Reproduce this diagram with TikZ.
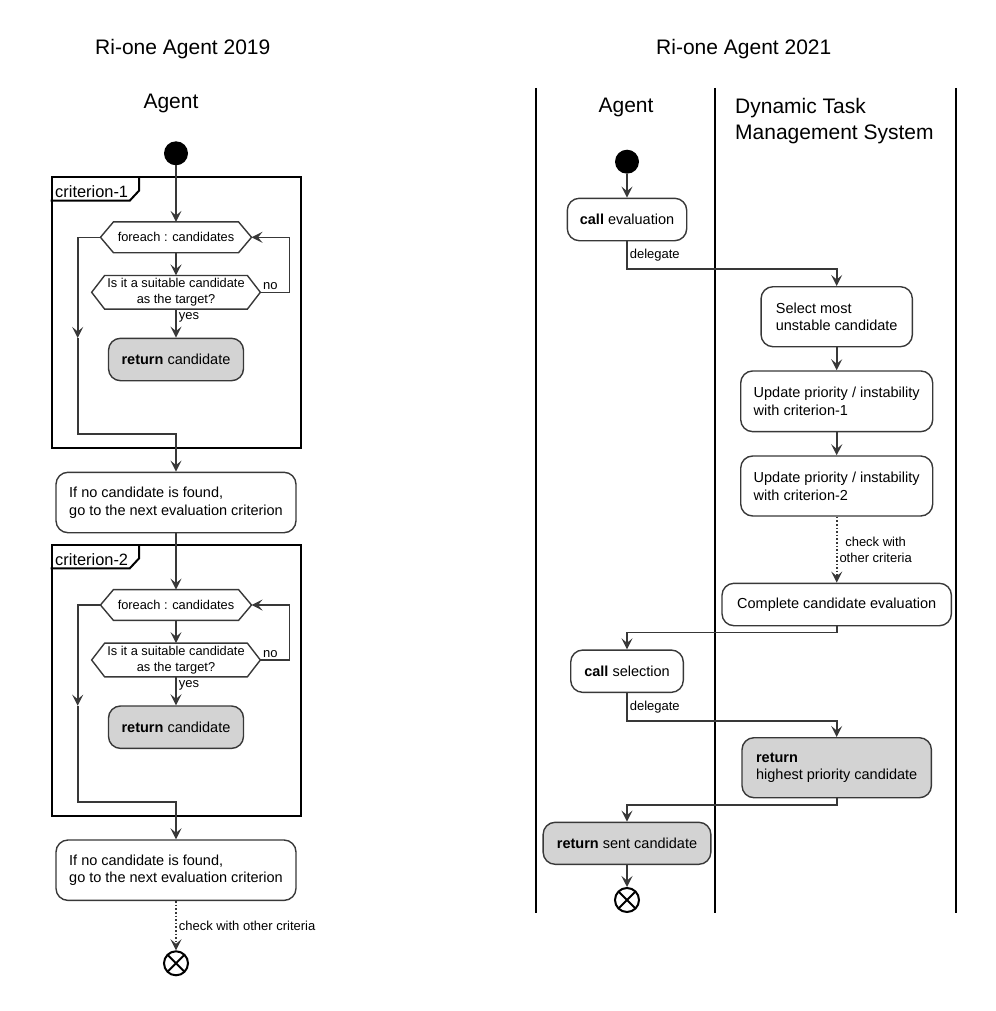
\documentclass[tikz,border=0pt]{standalone}
\usepackage{fontspec}
\setmainfont{Liberation Sans}
\usetikzlibrary{arrows.meta}
\definecolor{linecolor}{RGB}{56,56,56}
\definecolor{fillcolor}{RGB}{211,211,211}

\tikzset{
  every node/.style={font=\fontsize{14.5}{17.7}\selectfont},
  action/.style={draw=linecolor, line width=1.4pt, rounded corners=12pt, align=left, inner sep=0pt},
  retaction/.style={action, fill=fillcolor},
  loopbox/.style={inner sep=0pt, align=center, font=\fontsize{12.8}{16}\selectfont},
  hexline/.style={draw=linecolor, line width=1.4pt},
  critframe/.style={draw=black, line width=2pt, inner sep=0pt},
  tabtext/.style={inner sep=0pt, font=\fontsize{16.4}{18}\selectfont},
  startdot/.style={circle, fill=black, minimum size=24pt, inner sep=0pt},
  enddot/.style={circle, draw=black, line width=2pt, minimum size=24pt, inner sep=0pt,
    path picture={\draw[line width=2pt] (path picture bounding box.north west) -- (path picture bounding box.south east)
      (path picture bounding box.north east) -- (path picture bounding box.south west);}},
  flow/.style={draw=linecolor, line width=1.6pt, -{Stealth[length=11pt,width=11pt,inset=4.5pt]}},
  dottedflow/.style={flow, dotted},
  edgelabel/.style={inner sep=2pt, font=\fontsize{13}{16.5}\selectfont},
  headtext/.style={inner sep=0pt, font=\fontsize{21}{26.7}\selectfont},
  lane/.style={draw=black, line width=2pt}
}

\begin{document}
\begin{tikzpicture}[x=1pt,y=-1pt]
  \useasboundingbox (0,0) rectangle (995,1011);

  % Ri-one Agent 2019
  \node[headtext, anchor=base] (head1) at (182.8,55) {Ri-one Agent 2019};
  \node[headtext, anchor=base] (agent1) at (171,108.3) {Agent};
  \node[startdot] (s1) at (176,153.3) {};

  \foreach \i/\dy in {1/0,2/367.7}
  {
    \node[critframe, minimum width=249.3pt, minimum height=271pt] (crit\i) at (176.35,312.8+\dy) {};
    \draw[critframe] (crit\i.north west) ++(0,24.4) -- ++(79,0) -- ++(9.3,-10) -- ++(0,-14.4);
    \node[tabtext, anchor=west] (tab\i) at (55,191.7+\dy) {criterion-\i};

    \node[loopbox, minimum width=150.7pt, minimum height=30.4pt] (f\i) at (176,237.3+\dy) {foreach : candidates};
    \node[loopbox, minimum width=168.3pt, minimum height=33.3pt] (d\i) at (176,292.3+\dy) {Is it a suitable candidate\\as the target?};
    \foreach \n in {f\i,d\i}
      \draw[hexline] (\n.west) -- ([xshift=13pt]\n.north west) -- ([xshift=-13pt]\n.north east)
        -- (\n.east) -- ([xshift=-13pt]\n.south east) -- ([xshift=13pt]\n.south west) -- cycle;
    \node[retaction, minimum width=135pt, minimum height=42.4pt] (r\i) at (176,359.5+\dy) {\textbf{return} candidate};
    \node[action, minimum width=240pt, minimum height=60.4pt] (b\i) at (176,502.5+\dy) {If no candidate is found,\\go to the next evaluation criterion};

    \coordinate (m\i) at (77.7,338+\dy);
    \coordinate (k\i) at (77.7,434+\dy);
    \draw[flow] (f\i) -- (d\i);
    \draw[flow] (d\i) -- node[edgelabel, right, pos=0.3] (yes\i) {yes} (r\i);
    \draw[flow] (d\i.east) node[edgelabel, anchor=south west] (no\i) {no} -- ++(29,0) |- (f\i.east);
    \draw[flow] (f\i.west) -| (m\i);
    \draw[flow] (m\i) -- (k\i) -| (b\i.north);
  }

  \draw[flow] (s1) -- (f1);
  \draw[flow] (b1) -- (f2);
  \node[enddot] (e1) at (176,963.3) {};
  \draw[dottedflow] (b2) -- node[edgelabel, right] (other1) {check with other criteria} (e1);

  % Ri-one Agent 2021
  \node[headtext, anchor=base] (head2) at (743.8,55) {Ri-one Agent 2021};
  \foreach \x in {536,715,956}
    \draw[lane] (\x,88) -- (\x,913.3);
  \node[headtext, anchor=base] (agent2) at (626,112.7) {Agent};
  \node[headtext, anchor=base west, align=left] (dtms) at (735,140) {Dynamic Task\\Management System};

  \node[startdot] (s2) at (627,161.7) {};
  \node[action, minimum width=119.4pt, minimum height=42.4pt] (ceval) at (627,219.5) {\textbf{call} evaluation};
  \node[action, minimum width=151.3pt, minimum height=60pt] (select) at (836.7,316.7) {Select most\\unstable candidate};
  \node[action, minimum width=192pt, minimum height=60.7pt] (upd1) at (836.7,401.3) {Update priority / instability\\with criterion-1};
  \node[action, minimum width=192pt, minimum height=60pt] (upd2) at (836.7,486) {Update priority / instability\\with criterion-2};
  \node[action, minimum width=229.4pt, minimum height=42.4pt] (complete) at (836.7,604.5) {Complete candidate evaluation};
  \node[action, minimum width=112.6pt, minimum height=42.3pt] (csel) at (627,671.2) {\textbf{call} selection};
  \node[retaction, minimum width=189.4pt, minimum height=60pt] (rhigh) at (836.7,767.7) {\textbf{return}\\highest priority candidate};
  \node[retaction, minimum width=167.7pt, minimum height=42pt] (rsent) at (627,843.3) {\textbf{return} sent candidate};
  \node[enddot] (e2) at (627,900) {};

  \draw[flow] (s2) -- (ceval);
  \draw[flow] (ceval.south) -- node[edgelabel, right] (del1) {delegate} ++(0,27.6) -| (select.north);
  \draw[flow] (select) -- (upd1);
  \draw[flow] (upd1) -- (upd2);
  \draw[dottedflow] (upd2) -- node[edgelabel, right, align=center] (other2) {check with\\other criteria} (complete);
  \draw[flow] (complete.south) -- ++(0,6) -| (csel.north);
  \draw[flow] (csel.south) -- node[edgelabel, right] (del2) {delegate} ++(0,27.7) -| (rhigh.north);
  \draw[flow] (rhigh.south) -- ++(0,6.6) -| (rsent.north);
  \draw[flow] (rsent) -- (e2);
\end{tikzpicture}
\end{document}
